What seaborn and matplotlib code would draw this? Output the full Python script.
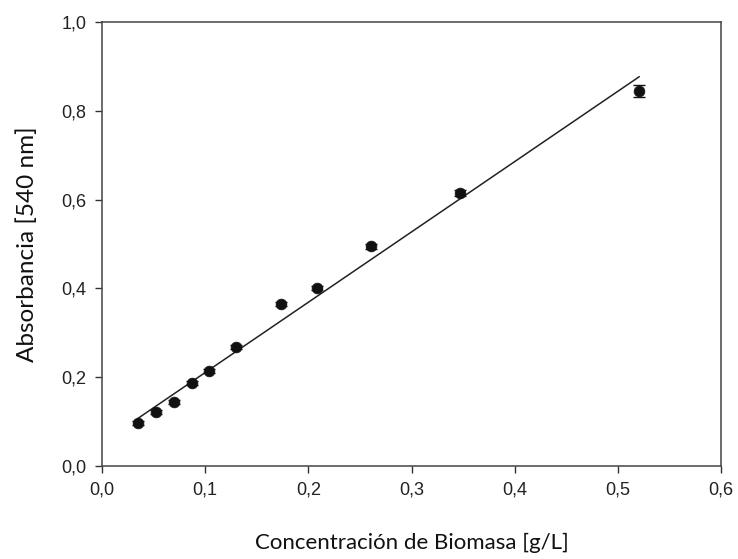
import numpy as np
import pandas as pd
import matplotlib
matplotlib.use("Agg")
import matplotlib.pyplot as plt
import seaborn as sns

# Data
biomasa = [0.0347, 0.0521, 0.0694, 0.0868, 0.1042, 0.1302, 0.1736, 0.2083, 0.2604, 0.3472, 0.5208]
absorbancia = [0.097, 0.122, 0.144, 0.187, 0.214, 0.268, 0.365, 0.401, 0.495, 0.615, 0.845]
error = [0.004, 0.004, 0.005, 0.005, 0.005, 0.005, 0.005, 0.005, 0.006, 0.007, 0.014]
fit_slope = 1.584
fit_intercept = 0.052

xticks = [0.0, 0.1, 0.2, 0.3, 0.4, 0.5, 0.6]
yticks = [0.0, 0.2, 0.4, 0.6, 0.8, 1.0]

df = pd.DataFrame({"x": biomasa, "y": absorbancia, "err": error})
fit_x = np.array([min(biomasa), max(biomasa)])
fit_df = pd.DataFrame({"x": fit_x, "y": fit_intercept + fit_slope * fit_x})

sns.set_style("ticks")
plt.rcParams["font.family"] = ["Liberation Sans", "DejaVu Sans"]

fig = plt.figure(figsize=(7.38, 5.59), dpi=100)
ax = fig.add_axes([0.1382, 0.1664, 0.977 - 0.1382, 0.9606 - 0.1664])

sns.lineplot(data=fit_df, x="x", y="y", ax=ax, color="#222222", linewidth=1.1)
ax.errorbar(df["x"], df["y"], yerr=df["err"], fmt="none", ecolor="#111111",
            elinewidth=1.0, capsize=4, capthick=1.0, zorder=3)
sns.scatterplot(data=df, x="x", y="y", ax=ax, color="#111111", s=60,
                edgecolor="#111111", linewidth=0.5, zorder=4)

ax.set_xlim(0, 0.6)
ax.set_ylim(0, 1.0)
ax.set_xticks(xticks)
ax.set_yticks(yticks)
ax.set_xticklabels([f"{t:.1f}".replace(".", ",") for t in xticks])
ax.set_yticklabels([f"{t:.1f}".replace(".", ",") for t in yticks])
ax.tick_params(axis="both", direction="out", length=5, width=1.0, color="#333333",
               labelsize=13, labelcolor="#222222", pad=6)
for sp in ax.spines.values():
    sp.set_visible(True)
    sp.set_color("#444444")
    sp.set_linewidth(1.1)

lab_font = ["Lato", "DejaVu Sans"]
ax.set_xlabel("Concentración de Biomasa [g/L]", fontsize=16, family=lab_font,
              color="#111111", labelpad=25)
ax.set_ylabel("Absorbancia [540 nm]", fontsize=17.5, family=lab_font,
              color="#111111", labelpad=17)

fig.savefig("out.png", dpi=100)
